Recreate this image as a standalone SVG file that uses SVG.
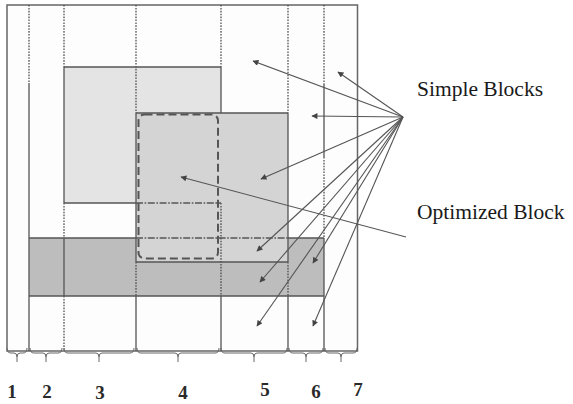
<svg xmlns="http://www.w3.org/2000/svg" width="573" height="404" viewBox="0 0 573 404">
<defs>
<style>
.sol{stroke:#555;stroke-width:1.3;fill:none}
.dot{stroke:#444;stroke-width:1.2;stroke-dasharray:1.6 1.3;fill:none}
.dd{stroke:#555;stroke-width:1.3;stroke-dasharray:7 1.6 1.6 1.6;fill:none}
.arr{stroke:#555;stroke-width:1.1;fill:none;marker-end:url(#ah)}
.brace{stroke:#666;stroke-width:1;fill:none}
.lbl{font-family:"Liberation Serif","Times New Roman",serif;font-size:21.5px;fill:#1a1a1a}
.num{font-family:"Liberation Serif","Times New Roman",serif;font-size:19px;font-weight:bold;fill:#2a2a2a;text-anchor:middle}
</style>
<marker id="ah" viewBox="0 0 10 10" refX="9" refY="5" markerWidth="7" markerHeight="6" markerUnits="userSpaceOnUse" orient="auto">
<path d="M0,0 L10,5 L0,10 z" fill="#444"/>
</marker>
</defs>
<rect width="573" height="404" fill="#ffffff"/>
<g id="frame">
<rect x="7" y="5" width="350.5" height="346" fill="#fdfdfd" stroke="#666" stroke-width="1.5"/>
</g>
<g id="block-dark">
<rect x="29" y="238" width="295" height="58" fill="#bdbdbd"/>
</g>
<g id="block-light">
<rect x="64" y="67" width="157" height="136" fill="#e4e4e5"/>
</g>
<g id="block-medium">
<rect x="136" y="113" width="152" height="149" fill="#d4d4d4"/>
</g>
<g id="edges">
<path class="dot" d="M29,5 V83"/><path class="sol" d="M29,83 V351"/>
<path class="dot" d="M64,5 V67 M64,203 V238 M64,296 V351"/><path class="sol" d="M64,67 V203 M64,238 V296"/>
<path class="dot" d="M136,5 V113 M136,262 V296"/><path class="sol" d="M136,113 V262 M136,296 V351"/>
<path class="dot" d="M221,5 V67 M221,203 V296"/><path class="sol" d="M221,67 V113 M221,296 V351"/>
<path class="dot" d="M288,5 V113 M288,262 V296"/><path class="sol" d="M288,113 V262 M288,296 V351"/>
<path class="dot" d="M324,5 V85 M324,157 V238"/><path class="sol" d="M324,85 V157 M324,238 V351"/>
<path class="sol" d="M64,67 H221 M64,203 H136 M136,113 H288 M136,262 H288 M29,238 H136 M288,238 H324 M29,296 H324"/>
<path class="dd" d="M136,203 H221 M136,238 H288"/>
</g>
<g id="optimized-block">
<rect x="138.5" y="114.5" width="79.5" height="144" rx="6" fill="none" stroke="#555" stroke-width="2" stroke-dasharray="8 4"/>
</g>
<g id="connectors">
<path class="arr" d="M403,117 L253,61"/>
<path class="arr" d="M403,117 L338,72"/>
<path class="arr" d="M403,117 L312,116"/>
<path class="arr" d="M403,117 L261,179"/>
<path class="arr" d="M403,117 L257,251"/>
<path class="arr" d="M403,117 L313,263"/>
<path class="arr" d="M403,117 L260,282"/>
<path class="arr" d="M403,117 L257,326"/>
<path class="arr" d="M403,117 L313,326"/>
<path class="arr" d="M406,237 L181,177"/>
</g>
<g id="label-simple">
<text class="lbl" x="417" y="96">Simple Blocks</text>
</g>
<g id="label-optimized">
<text class="lbl" x="417" y="219">Optimized Block</text>
</g>
<g id="braces">
<path class="brace" d="M7,348 Q7,353 11,353 H14 Q17,353 17,357 Q17,353 20,353 H23 Q27,353 27,348"/>
<path class="brace" d="M30,348 Q30,353 34,353 H43 Q46,353 46,357 Q46,353 49,353 H58 Q62,353 62,348"/>
<path class="brace" d="M64,348 Q64,353 68,353 H96 Q99,353 99,357 Q99,353 102,353 H130 Q134,353 134,348"/>
<path class="brace" d="M137,348 Q137,353 141,353 H175 Q178,353 178,357 Q178,353 181,353 H215 Q219,353 219,348"/>
<path class="brace" d="M221,348 Q221,353 225,353 H251 Q254,353 254,357 Q254,353 257,353 H283 Q287,353 287,348"/>
<path class="brace" d="M289,348 Q289,353 293,353 H303 Q306,353 306,357 Q306,353 309,353 H319 Q323,353 323,348"/>
<path class="brace" d="M325,348 Q325,353 329,353 H338 Q341,353 341,357 Q341,353 344,353 H353 Q357,353 357,348"/>
<path class="brace" d="M17,357 V362 M46,357 V362 M99,357 V362 M178,357 V362 M254,357 V362 M306,357 V362 M341,357 V362"/>
</g>
<g id="numbers">
<text class="num" x="12" y="398">1</text>
<text class="num" x="47" y="398">2</text>
<text class="num" x="100" y="399">3</text>
<text class="num" x="183" y="399">4</text>
<text class="num" x="265" y="396">5</text>
<text class="num" x="316" y="398">6</text>
<text class="num" x="358" y="396">7</text>
</g>
</svg>
